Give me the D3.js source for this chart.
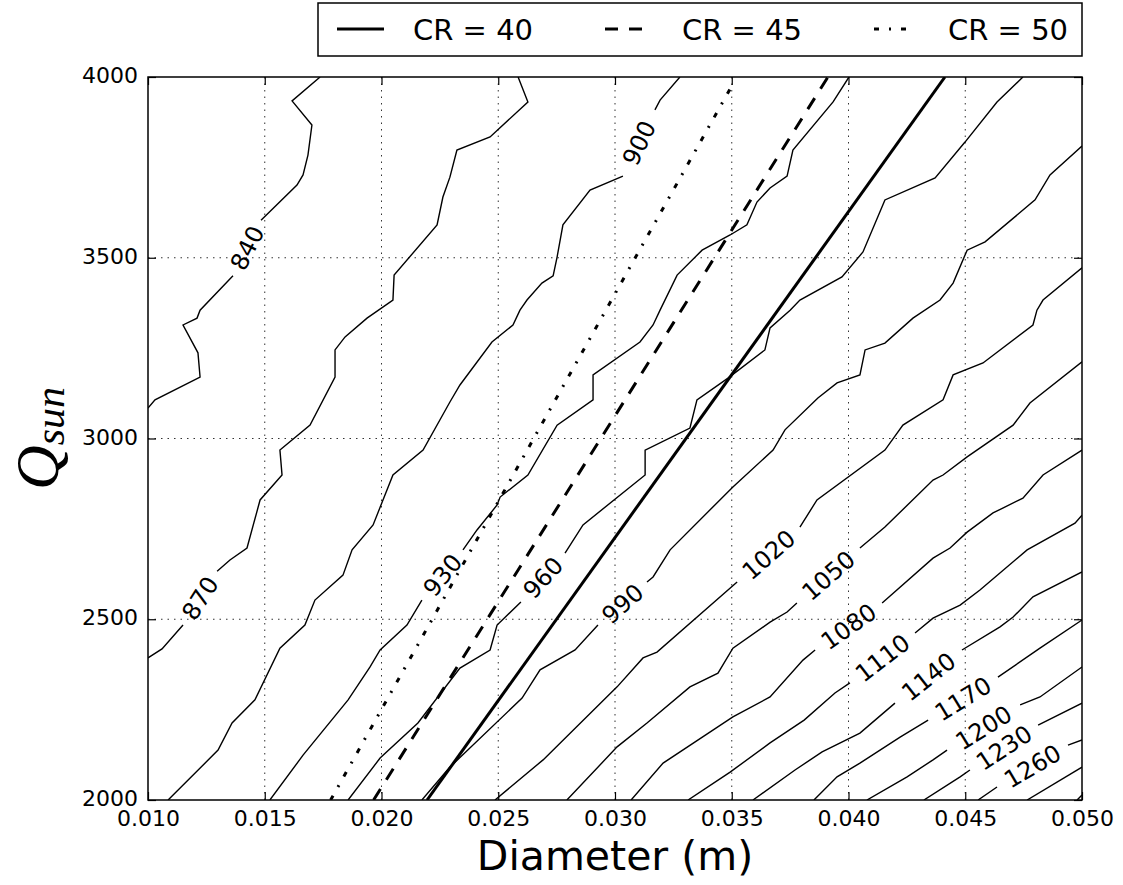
<!DOCTYPE html>
<html>
<head>
<meta charset="utf-8">
<script src="https://cdn.jsdelivr.net/npm/d3@7"></script>
<style>
body { margin: 0; background: #fff; }
text { font-family: "DejaVu Sans", sans-serif; fill: #000; }
</style>
</head>
<body>
<script>
// tick values
var xTicks = [0.010, 0.015, 0.020, 0.025, 0.030, 0.035, 0.040, 0.045, 0.050];
var yTicks = [2000, 2500, 3000, 3500, 4000];

// contour levels, one polyline each; null marks where the inline label sits
var levels = [840, 870, 900, 930, 960, 990, 1020, 1050, 1080, 1110, 1140, 1170, 1200, 1230, 1260, 1290, 1320];

var c840 = [[0.01737,4000],[0.01617,3934],[0.01702,3867],[0.01685,3784],[0.01664,3729],[0.01638,3701],[0.01484,3604],null,
  [0.01364,3450],[0.01223,3355],[0.01210,3333],[0.01150,3314],[0.01214,3237],[0.01223,3170],[0.01030,3107],[0.01000,3084]];
var c870 = [[0.02585,4000],[0.02627,3931],[0.02465,3834],[0.02323,3798],[0.02293,3723],[0.02263,3668],[0.02238,3591],[0.02054,3452],
  [0.02049,3383],[0.01938,3333],[0.01844,3281],[0.01801,3245],[0.01801,3170],[0.01694,3037],[0.01565,2968],[0.01574,2899],
  [0.01480,2830],[0.01424,2697],[0.01351,2664],[0.01296,2633],null,[0.01150,2484],[0.01060,2418],[0.01000,2393]];
var c900 = [[0.01086,2000],[0.01300,2138],[0.01360,2213],[0.01458,2277],[0.01565,2420],[0.01672,2484],[0.01715,2553],[0.01835,2622],
  [0.01874,2692],[0.01964,2761],[0.02049,2899],[0.02178,2968],[0.02293,3101],[0.02336,3148],[0.02473,3267],[0.02563,3314],
  [0.02593,3355],[0.02623,3383],[0.02687,3430],[0.02735,3450],[0.02752,3502],[0.02777,3591],[0.02893,3687],[0.03034,3726],null,
  [0.03171,3909],[0.03193,3936],[0.03278,4000]];
var c930 = [[0.01522,2000],[0.01664,2124],[0.01857,2277],[0.01951,2368],[0.01994,2415],[0.02109,2484],[0.02173,2553],null,
  [0.02349,2692],[0.02409,2747],[0.02495,2816],[0.02508,2838],[0.02627,2899],[0.02752,3037],[0.02906,3107],[0.02906,3176],
  [0.03107,3267],[0.03163,3314],[0.03193,3355],[0.03266,3452],[0.03373,3521],[0.03493,3563],[0.03565,3591],[0.03608,3654],
  [0.03664,3693],[0.03737,3726],[0.03762,3798],[0.03934,3931],[0.04002,4000]];
var c960 = [[0.01857,2000],[0.01994,2116],[0.02156,2213],[0.02336,2365],[0.02465,2415],[0.02495,2484],[0.02597,2548],null,
  [0.02786,2683],[0.02863,2761],[0.03129,2899],[0.03129,2968],[0.03321,3029],[0.03351,3107],[0.03484,3167],[0.03642,3245],
  [0.03664,3306],[0.03750,3355],[0.03792,3383],[0.03972,3447],[0.04062,3516],[0.04156,3660],[0.04371,3721],[0.04499,3820],
  [0.04636,3931],[0.04747,4000]];
var c990 = [[0.02173,2000],[0.02293,2091],[0.02602,2282],[0.02679,2360],[0.02829,2415],[0.02927,2484],null,
  [0.03137,2603],[0.03163,2617],[0.03236,2692],[0.03505,2866],[0.03677,2968],[0.03728,3024],[0.03869,3112],[0.03951,3154],
  [0.04049,3176],[0.04071,3245],[0.04156,3264],[0.04276,3333],[0.04392,3383],[0.04448,3430],[0.04508,3521],[0.04585,3544],
  [0.04799,3660],[0.04863,3729],[0.05000,3809]];
var c1020 = [[0.02486,2000],[0.02692,2111],[0.03009,2313],[0.03120,2393],[0.03180,2409],[0.03523,2603],null,
  [0.03792,2755],[0.03865,2830],[0.04156,2968],[0.04233,3037],[0.04405,3107],[0.04448,3176],[0.04576,3209],[0.04790,3314],
  [0.04807,3355],[0.04833,3383],[0.05000,3472]];
var c1050 = [[0.02794,2000],[0.03009,2147],[0.03137,2213],[0.03321,2313],[0.03441,2351],[0.03505,2420],[0.03664,2492],
  [0.03737,2520],[0.03779,2545],null,[0.04049,2697],[0.04156,2755],[0.04362,2885],[0.04405,2899],[0.04508,2949],
  [0.04705,3037],[0.04777,3098],[0.05000,3212]];
var c1080 = [[0.03069,2000],[0.03206,2102],[0.03505,2230],[0.03664,2285],[0.03805,2387],[0.03857,2415],null,
  [0.04144,2545],[0.04362,2669],[0.04435,2697],[0.04508,2741],[0.04619,2794],[0.04747,2835],[0.04833,2899],[0.05000,2968]];
var c1110 = [[0.03313,2000],[0.03493,2077],[0.03664,2158],[0.03810,2221],[0.03942,2296],[0.04006,2324],null,
  [0.04285,2462],[0.04362,2503],[0.04478,2539],[0.04563,2581],[0.04765,2692],[0.04970,2766],[0.05000,2788]];
var c1140 = [[0.03591,2000],[0.03771,2083],[0.03887,2133],[0.04049,2185],[0.04199,2268],null,
  [0.04486,2415],[0.04649,2479],[0.04705,2506],[0.04790,2562],[0.05000,2631]];
var c1170 = [[0.03852,2000],[0.03951,2064],[0.04049,2102],[0.04221,2174],[0.04341,2221],null,
  [0.04640,2340],[0.04820,2420],[0.05000,2498]];
var c1200 = [[0.04079,2000],[0.04251,2064],[0.04362,2111],[0.04422,2138],null,[0.04735,2263],[0.04820,2285],[0.05000,2368]];
var c1230 = [[0.04323,2000],[0.04478,2064],[0.04520,2083],null,[0.04812,2207],[0.05000,2268]];
var c1260 = [[0.04555,2000],[0.04636,2036],null,[0.04940,2152],[0.05000,2166]];
var c1290 = [[0.04765,2000],[0.05000,2091]];
var c1320 = [[0.04979,2000],[0.05000,2014]];

var contours = [c840, c870, c900, c930, c960, c990, c1020, c1050, c1080, c1110, c1140, c1170, c1200, c1230, c1260, c1290, c1320];

// compression ratio lines
var crNames = ["CR = 40", "CR = 45", "CR = 50"];
var cr40 = [[0.02195,2000],[0.04413,4000]];
var cr45 = [[0.01966,2000],[0.03912,4000]];
var cr50 = [[0.01782,2000],[0.03500,3975]];

//create svg
var svg = d3.select("body").append("svg")
    .attr("width", 1123)
    .attr("height", 885);

var margin = {left: 148, right: 41, top: 77, bottom: 85};
var width = 1123 - margin.left - margin.right;
var height = 885 - margin.top - margin.bottom;

var x = d3.scaleLinear().domain([0.01, 0.05]).range([0, width]);
var y = d3.scaleLinear().domain([2000, 4000]).range([height, 0]);

svg.append("defs").append("clipPath").attr("id", "clip")
  .append("rect").attr("width", width).attr("height", height);

var g = svg.append("g")
    .attr("transform", "translate(" + margin.left + "," + margin.top + ")");

// grid
g.selectAll(".vgrid").data(xTicks.slice(1, -1)).enter().append("line")
    .attr("x1", d => x(d)).attr("x2", d => x(d))
    .attr("y1", 0).attr("y2", height)
    .attr("stroke", "#333").attr("stroke-width", 1).attr("stroke-dasharray", "1.5,5");
g.selectAll(".hgrid").data(yTicks.slice(1, -1)).enter().append("line")
    .attr("y1", d => y(d)).attr("y2", d => y(d))
    .attr("x1", 0).attr("x2", width)
    .attr("stroke", "#333").attr("stroke-width", 1).attr("stroke-dasharray", "1.5,5");

var plot = g.append("g").attr("clip-path", "url(#clip)");

var line = d3.line()
    .defined(d => d !== null)
    .x(d => x(d[0]))
    .y(d => y(d[1]));

// contour lines with inline labels
contours.forEach(function(pts, i) {
  plot.append("path")
      .attr("d", line(pts))
      .attr("fill", "none")
      .attr("stroke", "#000")
      .attr("stroke-width", 1.4);
  var k = pts.indexOf(null);
  if (k > 0) {
    var ax = x(pts[k-1][0]), ay = y(pts[k-1][1]);
    var bx = x(pts[k+1][0]), by = y(pts[k+1][1]);
    var ang = Math.atan2(by - ay, bx - ax) * 180 / Math.PI;
    if (ang > 90) ang -= 180;
    if (ang < -90) ang += 180;
    g.append("text")
        .attr("transform", "translate(" + (ax + bx) / 2 + "," + (ay + by) / 2 + ") rotate(" + ang + ")")
        .attr("text-anchor", "middle")
        .attr("dy", "0.36em")
        .style("font-size", "24px")
        .text(levels[i]);
  }
});

// CR lines
var crStyles = [null, "13,11", "5,10,2,10"];
[cr40, cr45, cr50].forEach(function(pts, i) {
  plot.append("path")
      .attr("d", line(pts))
      .attr("fill", "none")
      .attr("stroke", "#000")
      .attr("stroke-width", 3)
      .attr("stroke-dasharray", crStyles[i]);
});

// axes
var xAxis = g.append("g")
    .attr("transform", "translate(0," + height + ")")
    .call(d3.axisBottom(x).tickValues(xTicks).tickFormat(d3.format(".3f"))
      .tickSizeInner(-8).tickSizeOuter(0).tickPadding(10));
var yAxis = g.append("g")
    .call(d3.axisLeft(y).tickValues(yTicks).tickFormat(d3.format("d"))
      .tickSizeInner(-8).tickSizeOuter(0).tickPadding(10));
var topAxis = g.append("g")
    .call(d3.axisTop(x).tickValues(xTicks).tickFormat("").tickSizeInner(-8).tickSizeOuter(0));
var rightAxis = g.append("g")
    .attr("transform", "translate(" + width + ",0)")
    .call(d3.axisRight(y).tickValues(yTicks).tickFormat("").tickSizeInner(-8).tickSizeOuter(0));

[xAxis, yAxis, topAxis, rightAxis].forEach(function(a) {
  a.select(".domain").remove();
  a.selectAll("line").attr("stroke", "#000").attr("stroke-width", 1.2);
  a.selectAll("text").style("font-size", "22px").style("font-family", "DejaVu Sans");
});
yAxis.selectAll("text").attr("dy", "0.25em");

// frame
g.append("rect")
    .attr("width", width).attr("height", height)
    .attr("fill", "none").attr("stroke", "#000").attr("stroke-width", 1.5);

// x-axis label
g.append("text")
    .attr("x", width / 2)
    .attr("y", height + 70)
    .attr("text-anchor", "middle")
    .style("font-size", "41px")
    .text("Diameter (m)");

// y-axis label
var ylab = svg.append("text")
    .attr("transform", "translate(58," + (margin.top + height / 2) + ") rotate(-90)")
    .attr("text-anchor", "middle")
    .style("font-family", "Liberation Serif")
    .style("font-style", "italic");
ylab.append("tspan").style("font-size", "62px").text("Q");
ylab.append("tspan").style("font-size", "42px").attr("dy", 6).text("sun");

// legend
var leg = svg.append("g");
leg.append("rect")
    .attr("x", 318).attr("y", 3).attr("width", 764).attr("height", 53)
    .attr("fill", "#fff").attr("stroke", "#000").attr("stroke-width", 1.5);
var legX = [337, 605, 874];
var legLen = [47, 40, 32];
var legTextX = [413, 682, 948];
crNames.forEach(function(name, i) {
  leg.append("line")
      .attr("x1", legX[i]).attr("x2", legX[i] + legLen[i])
      .attr("y1", 29).attr("y2", 29)
      .attr("stroke", "#000").attr("stroke-width", 3)
      .attr("stroke-dasharray", crStyles[i]);
  leg.append("text")
      .attr("x", legTextX[i]).attr("y", 40)
      .style("font-size", "29px")
      .text(name);
});
</script>
</body>
</html>
